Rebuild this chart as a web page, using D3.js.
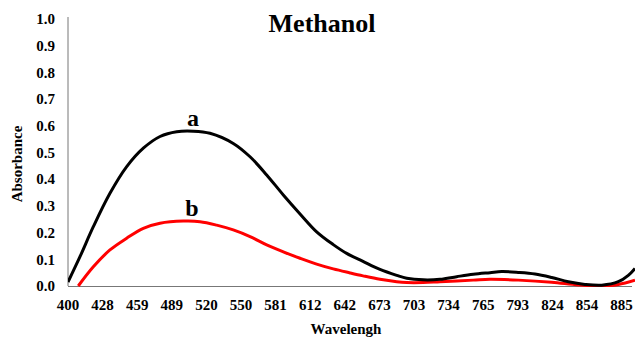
<!DOCTYPE html>
<html><head><meta charset="utf-8">
<script src="https://cdn.jsdelivr.net/npm/d3@7"></script>
<style>body{margin:0;background:#fff}svg{display:block}</style>
</head><body>
<svg id="c" width="635" height="338"></svg>
<script>
const tickLabels = [400,428,459,489,520,550,581,612,642,673,703,734,765,793,824,854,885];
const yTicks = [0,0.1,0.2,0.3,0.4,0.5,0.6,0.7,0.8,0.9,1.0];
const wavelengthA = [400,409.7,420.5,434.6,449.6,464.3,478.8,493.4,508.3,523.1,543.3,558.1,573,587.9,602.9,617.6,632,643.7,658.3,673.5,688,696.7,711.3,726.3,741.3,756.1,770.5,780,793.4,808.4,823.4,837.8,852.2,867.2,882.1,891,897];
const seriesA = [0.015,0.11,0.222,0.347,0.447,0.516,0.56,0.578,0.58,0.572,0.534,0.484,0.416,0.341,0.27,0.203,0.155,0.122,0.092,0.062,0.04,0.029,0.023,0.025,0.035,0.044,0.05,0.054,0.051,0.045,0.032,0.016,0.006,0.003,0.016,0.04,0.066];
const wavelengthB = [408.3,420.5,434.6,449.6,464.3,478.8,499.3,514.3,528.9,543.3,558.1,573,587.9,602.9,617.6,632,646.7,658.3,673.5,688,696.7,711.3,726.3,756.1,770.5,793.4,823.4,846.4,867.2,882.1,897];
const seriesB = [0.0,0.072,0.135,0.179,0.216,0.235,0.243,0.241,0.228,0.21,0.185,0.154,0.128,0.104,0.082,0.064,0.049,0.038,0.025,0.016,0.013,0.013,0.016,0.022,0.025,0.022,0.014,0.004,0.0,0.006,0.022];
const labels = [{t:"a", w:508, v:0.58},{t:"b", w:507, v:0.243}];

const svg = d3.select("#c");
const x0 = 68, step = 34.6;
const x = d3.scaleLinear()
  .domain(tickLabels.concat([916]))
  .range(tickLabels.map((d,i)=>x0+i*step).concat([x0+17*step]));
const y = d3.scaleLinear().domain([0,1]).range([286,19]);
const font = "'Liberation Serif','Times New Roman',serif";

svg.append("defs").append("clipPath").attr("id","clip")
  .append("rect").attr("x",x0).attr("y",0).attr("width",635-x0).attr("height",287);

svg.append("line").attr("x1",x0).attr("x2",x0).attr("y1",17).attr("y2",286).attr("stroke","#777").attr("stroke-width",1);
svg.append("line").attr("x1",x0).attr("x2",632).attr("y1",286.5).attr("y2",286.5).attr("stroke","#777").attr("stroke-width",1);

svg.selectAll(".yt").data(yTicks).join("text")
  .attr("x",55).attr("y",d=>y(d)).attr("dy","0.35em").attr("text-anchor","end")
  .attr("font-family",font).attr("font-weight","bold").attr("font-size",15)
  .text(d=>d3.format(".1f")(d));

svg.selectAll(".xt").data(tickLabels).join("text")
  .attr("x",d=>x(d)).attr("y",310).attr("text-anchor","middle")
  .attr("font-family",font).attr("font-weight","bold").attr("font-size",15)
  .text(d=>d);

const line = d3.line().x(d=>x(d[0])).y(d=>y(d[1])).curve(d3.curveCatmullRom.alpha(0.5));
const g = svg.append("g").attr("clip-path","url(#clip)");
g.append("path").datum(d3.zip(wavelengthB,seriesB)).attr("d",line)
  .attr("fill","none").attr("stroke","#ff0000").attr("stroke-width",3);
g.append("path").datum(d3.zip(wavelengthA,seriesA)).attr("d",line)
  .attr("fill","none").attr("stroke","#000").attr("stroke-width",3);

svg.selectAll(".lab").data(labels).join("text")
  .attr("x",d=>x(d.w)).attr("y",d=>y(d.v)-5).attr("text-anchor","middle")
  .attr("font-family",font).attr("font-weight","bold").attr("font-size",24)
  .text(d=>d.t);

svg.append("text").attr("x",322).attr("y",32).attr("text-anchor","middle")
  .attr("font-family",font).attr("font-weight","bold").attr("font-size",26).text("Methanol");
svg.append("text").attr("x",346).attr("y",334).attr("text-anchor","middle")
  .attr("font-family",font).attr("font-weight","bold").attr("font-size",15).text("Wavelengh");
svg.append("text").attr("transform","translate(22,164) rotate(-90)").attr("text-anchor","middle")
  .attr("font-family",font).attr("font-weight","bold").attr("font-size",15).text("Absorbance");
</script>
</body></html>
